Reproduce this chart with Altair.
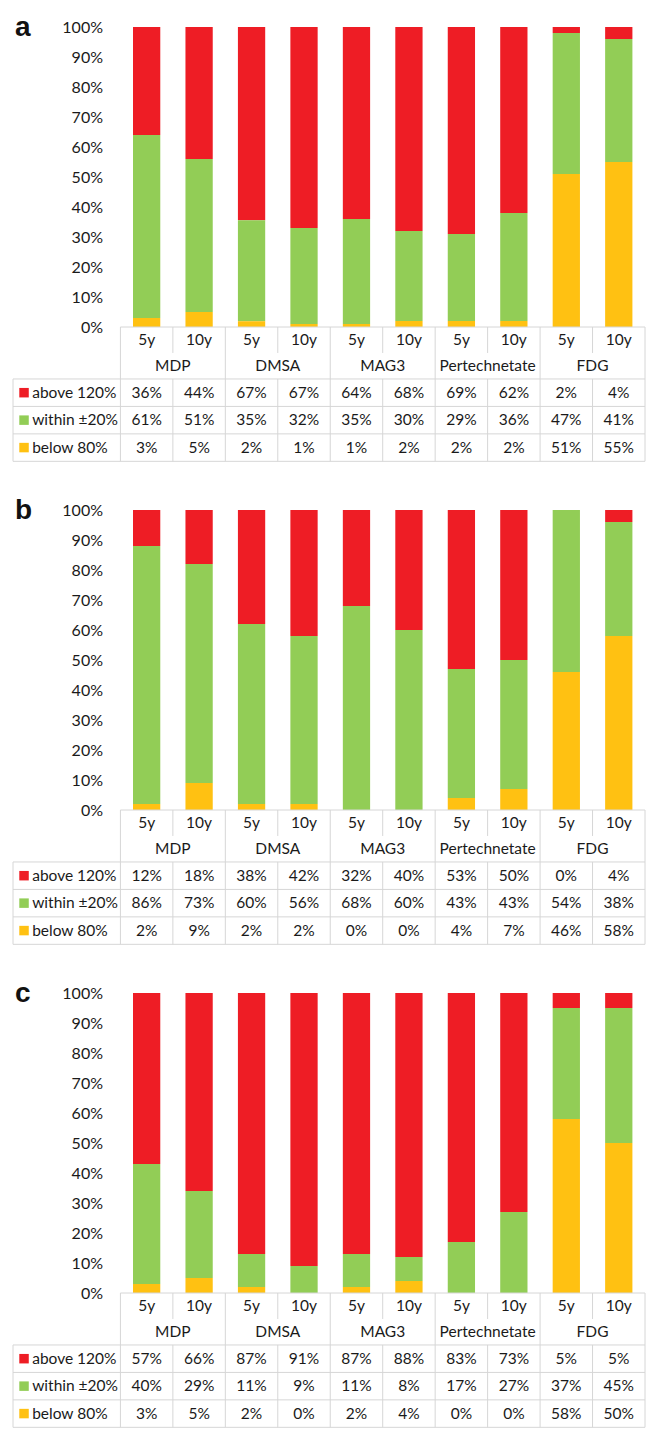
import altair as alt
import pandas as pd

# ---------------- data ----------------
sub_labels = ["5y", "10y", "5y", "10y", "5y", "10y", "5y", "10y", "5y", "10y"]
groups = ["MDP", "DMSA", "MAG3", "Pertechnetate", "FDG"]
categories = ["above 120%", "within \u00b120%", "below 80%"]
colors = ["#EE1D25", "#92CD56", "#FFC112"]

a_above = [36, 44, 67, 67, 64, 68, 69, 62, 2, 4]
a_within = [61, 51, 35, 32, 35, 30, 29, 36, 47, 41]
a_below = [3, 5, 2, 1, 1, 2, 2, 2, 51, 55]

b_above = [12, 18, 38, 42, 32, 40, 53, 50, 0, 4]
b_within = [86, 73, 60, 56, 68, 60, 43, 43, 54, 38]
b_below = [2, 9, 2, 2, 0, 0, 4, 7, 46, 58]

c_above = [57, 66, 87, 91, 87, 88, 83, 73, 5, 5]
c_within = [40, 29, 11, 9, 11, 8, 17, 27, 37, 45]
c_below = [3, 5, 2, 0, 2, 4, 0, 0, 58, 50]

tick_values = [0, 0.1, 0.2, 0.3, 0.4, 0.5, 0.6, 0.7, 0.8, 0.9, 1.0]

# ---------------- layout ----------------
W = 642
s = W / 659
LC = 112 / 54.7            # label column width in column units
HB = 300                    # bar area height (px)
R_HEAD = 26.5 / 306         # header row height in y-units
R_DATA = 28 / 306           # data row height in y-units
T = 2 * R_HEAD + 3 * R_DATA
H = HB * (1 + T)
FONT = "Lato"
TXT = "#1a1a1a"
GRID = "#d6d6d6"
FS = 15.5

xscale = alt.Scale(domain=[-LC, 10], nice=False, zero=False)
yscale = alt.Scale(domain=[-T, 1], nice=False, zero=False)
yaxis = alt.Axis(values=tick_values, format=".0%", title=None, domain=False,
                 ticks=False, grid=False, labelFont=FONT, labelFontSize=FS + 0.5,
                 labelColor=TXT, labelPadding=15 * s, offset=-(W * LC / (LC + 10)))
color = alt.Color("cat:N", scale=alt.Scale(domain=categories, range=colors), legend=None)


def X(f):
    return alt.X(f, scale=xscale, axis=None)


def Y(f):
    return alt.Y(f, scale=yscale, axis=yaxis)


e1 = -R_HEAD
e2 = -2 * R_HEAD
row_edges = [e2 - R_DATA * k for k in range(4)]


def panel(letter, above, within, below):
    vals = [above, within, below]
    bars = []
    for i in range(10):
        for k, cat in enumerate(categories):
            bars.append({"x": i + 0.5, "cat": cat, "v": vals[k][i], "order": 2 - k})
    bars = pd.DataFrame(bars)

    hr = [{"x": 0, "x2": 10, "y": 0}]
    for e in row_edges:
        hr.append({"x": -LC, "x2": 10, "y": e})
    hr = pd.DataFrame(hr)

    vr = []
    for j in range(0, 11, 2):
        vr.append({"x": j, "y": 0, "y2": -T})
    for j in range(1, 10, 2):
        vr.append({"x": j, "y": 0, "y2": e1})
        vr.append({"x": j, "y": e2, "y2": -T})
    vr.append({"x": -LC, "y": e2, "y2": -T})
    vr = pd.DataFrame(vr)

    sub = pd.DataFrame({"x": [i + 0.5 for i in range(10)], "y": [-R_HEAD / 2] * 10,
                        "t": sub_labels})
    grp = pd.DataFrame({"x": [2 * g + 1 for g in range(5)], "y": [-1.5 * R_HEAD] * 5,
                        "t": groups})
    cells = []
    for k, cat in enumerate(categories):
        for i in range(10):
            cells.append({"x": i + 0.5, "y": e2 - R_DATA * (k + 0.5),
                          "t": f"{vals[k][i]}%"})
    cells = pd.DataFrame(cells)
    rlab = pd.DataFrame({"x": [-LC + 20 / 54.7] * 3,
                         "xs": [-LC + 11.5 / 54.7] * 3,
                         "y": [e2 - R_DATA * (k + 0.5) for k in range(3)],
                         "cat": categories})
    let = pd.DataFrame({"x": [-LC], "y": [1.0], "t": [letter]})

    l_bars = alt.Chart(bars).mark_bar(size=28 * s).encode(
        x=X("x:Q"), y=alt.Y("v:Q", stack="normalize", scale=yscale, axis=yaxis),
        color=color, order=alt.Order("order:Q"))
    l_hr = alt.Chart(hr).mark_rule(color=GRID, strokeWidth=1).encode(
        x=X("x:Q"), x2="x2:Q", y=Y("y:Q"))
    l_vr = alt.Chart(vr).mark_rule(color=GRID, strokeWidth=1).encode(
        x=X("x:Q"), y=Y("y:Q"), y2="y2:Q")
    txt = dict(font=FONT, fontSize=FS, color=TXT, baseline="middle")
    l_sub = alt.Chart(sub).mark_text(align="center", **txt).encode(
        x=X("x:Q"), y=Y("y:Q"), text="t:N")
    l_grp = alt.Chart(grp).mark_text(align="center", **txt).encode(
        x=X("x:Q"), y=Y("y:Q"), text="t:N")
    l_cells = alt.Chart(cells).mark_text(align="center", **txt).encode(
        x=X("x:Q"), y=Y("y:Q"), text="t:N")
    l_rlab = alt.Chart(rlab).mark_text(align="left", **txt).encode(
        x=X("x:Q"), y=Y("y:Q"), text="cat:N")
    l_sw = alt.Chart(rlab).mark_square(size=90, opacity=1).encode(
        x=X("xs:Q"), y=Y("y:Q"), color=color)
    l_let = alt.Chart(let).mark_text(font="Liberation Sans", fontWeight="bold",
                                     fontSize=28, color="#111111", align="left",
                                     baseline="alphabetic", dx=2, dy=9).encode(
        x=X("x:Q"), y=Y("y:Q"), text="t:N")

    return alt.layer(l_bars, l_hr, l_vr, l_sub, l_grp, l_cells, l_rlab, l_sw, l_let
                     ).properties(width=W, height=H)


chart = alt.vconcat(
    panel("a", a_above, a_within, a_below),
    panel("b", b_above, b_within, b_below),
    panel("c", c_above, c_within, c_below),
    spacing=35,
).properties(padding={"left": 0, "top": 6, "right": 0, "bottom": 0}
).configure_view(stroke=None)

chart.save("out.html", embed_options={"renderer": "svg", "actions": False})
